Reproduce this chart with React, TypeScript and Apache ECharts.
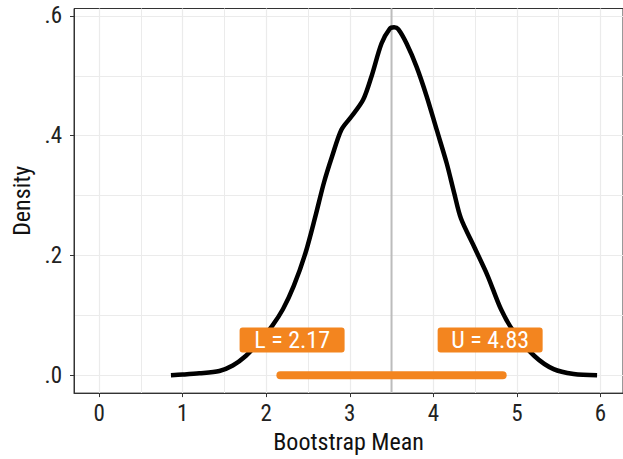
import React, { useEffect, useRef } from "react";
import * as echarts from "echarts";

const densityX = [0.86, 1.0, 1.2, 1.44, 1.6, 1.755, 1.9, 2.07, 2.2, 2.33, 2.47, 2.59, 2.69, 2.79, 2.9, 3.02, 3.16, 3.26, 3.38, 3.48, 3.53, 3.58, 3.68, 3.8, 3.92, 4.04, 4.16, 4.25, 4.33, 4.49, 4.65, 4.81, 4.97, 5.21, 5.44, 5.68, 5.96];
const densityY = [0, 0.001, 0.003, 0.007, 0.016, 0.032, 0.053, 0.082, 0.11, 0.149, 0.204, 0.266, 0.321, 0.366, 0.41, 0.432, 0.46, 0.499, 0.554, 0.579, 0.581, 0.578, 0.554, 0.515, 0.466, 0.41, 0.354, 0.304, 0.262, 0.214, 0.166, 0.11, 0.071, 0.032, 0.01, 0.002, 0];
const bootMean = 3.5;
const ciBounds = [2.17, 4.83];
const ciNames = ["L", "U"];
const labelX = [2.31, 4.68];
const labelY = 0.0587;
const xTicks = [0, 1, 2, 3, 4, 5, 6];
const yTicks = [0, 0.2, 0.4, 0.6];

const FONT = "'Liberation Sans Narrow', 'Roboto Condensed', 'DejaVu Sans Condensed', 'Liberation Sans', sans-serif";
const ORANGE = "#f3851f";

export default function App() {
  const ref = useRef<HTMLDivElement>(null);
  useEffect(() => {
    if (!ref.current) return;
    const chart = echarts.init(ref.current, null, { renderer: "svg" });
    const grid = "#ebebeb";
    chart.setOption({
      animation: false,
      textStyle: { fontFamily: FONT },
      grid: { left: 74, top: 8.5, bottom: 65, right: -3, show: true, borderColor: "#333", borderWidth: 1, containLabel: false },
      xAxis: {
        type: "value",
        min: -0.3,
        max: 6.27,
        splitNumber: 6,
        name: "Bootstrap Mean",
        nameLocation: "middle",
        nameGap: 34,
        nameTextStyle: { fontSize: 24, color: "#111", fontFamily: FONT },
        axisLine: { show: true, onZero: false, lineStyle: { color: "#333", width: 1 } },
        axisTick: { show: true, length: 4, lineStyle: { color: "#333" }, customValues: xTicks },
        axisLabel: { fontSize: 23, color: "#222", margin: 9, fontFamily: FONT, customValues: xTicks, formatter: (v: number) => String(v) },
        splitLine: { show: true, lineStyle: { color: grid, width: 1.2 } },
        minorTick: { show: false, splitNumber: 2 },
        minorSplitLine: { show: true, lineStyle: { color: grid, width: 1 } },
      },
      yAxis: {
        type: "value",
        min: -0.03,
        max: 0.6125,
        splitNumber: 3,
        name: "Density",
        nameLocation: "middle",
        nameGap: 40,
        nameTextStyle: { fontSize: 24, color: "#111", fontFamily: FONT },
        axisLine: { show: true, onZero: false, lineStyle: { color: "#333", width: 1 } },
        axisTick: { show: true, length: 4, lineStyle: { color: "#333" }, customValues: yTicks },
        axisLabel: {
          fontSize: 23, color: "#222", margin: 12, fontFamily: FONT, customValues: yTicks,
          formatter: (v: number) => v.toFixed(1).replace(/^0/, ""),
        },
        splitLine: { show: true, lineStyle: { color: grid, width: 1.2 } },
        minorTick: { show: false, splitNumber: 2 },
        minorSplitLine: { show: true, lineStyle: { color: grid, width: 1 } },
      },
      series: [
        {
          type: "line",
          data: [[bootMean, -0.03], [bootMean, 0.6125]],
          symbol: "none",
          lineStyle: { color: "#bcbcbc", width: 2 },
          silent: true,
          z: 2,
        },
        {
          type: "line",
          data: densityX.map((x, i) => [x, densityY[i]]),
          symbol: "none",
          smooth: 0.3,
          lineStyle: { color: "#000", width: 4.5 },
          z: 3,
        },
        {
          type: "line",
          data: ciBounds.map((x) => [x, 0]),
          symbol: "none",
          lineStyle: { color: ORANGE, width: 8, cap: "round" },
          z: 4,
        },
        {
          type: "scatter",
          symbolSize: 0,
          itemStyle: { opacity: 1 },
          data: labelX.map((x, i) => ({ value: [x, labelY], name: `${ciNames[i]} = ${ciBounds[i].toFixed(2)}` })),
          label: {
            show: true,
            position: "inside",
            formatter: (p: any) => p.name,
            color: "#fff",
            opacity: 1,
            fontSize: 24,
            fontFamily: FONT,
            backgroundColor: ORANGE,
            borderRadius: 3,
            width: 73,
            height: 25,
            lineHeight: 25,
            align: "center",
            verticalAlign: "middle",
            padding: [0, 16, 0, 16],
          },
          z: 5,
        },
      ],
    });
    return () => chart.dispose();
  }, []);
  return <div ref={ref} style={{ width: 623, height: 459, position: "absolute", left: 0, top: 0 }} />;
}
